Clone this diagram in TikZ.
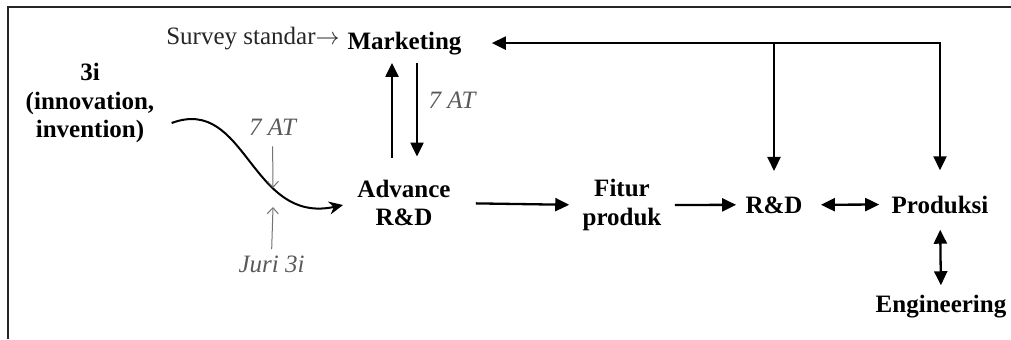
\documentclass[tikz,border=0pt]{standalone}
\usepackage{fontspec}
\setmainfont{Liberation Serif}
\usetikzlibrary{arrows.meta,calc,positioning}

\begin{document}
\begin{tikzpicture}[x=0.5pt,y=-0.5pt,
every node/.style={inner sep=0pt,font=\fontsize{12.5}{14.25}\selectfont},
box/.style={font=\fontsize{12.5}{14.25}\selectfont\bfseries,align=center},
note/.style={font=\fontsize{12.5}{14.25}\selectfont\itshape,text=black!65},
flow/.style={line width=1.15pt,-{Triangle[length=7pt,width=6.5pt]}},
both/.style={line width=1.15pt,{Triangle[length=7pt,width=6.5pt]}-{Triangle[length=7pt,width=6.5pt]}},
hint/.style={black!55,line width=0.5pt,-{Straight Barb[length=3pt,width=5.5pt]}}]
\useasboundingbox (0,0) rectangle (1011,339);
\draw[line width=1pt,black!85] (8,339) -- (8,7) -- (1011,7);
\node[box,anchor=base] (Mk) at (404.5,49) {Marketing};
\node[anchor=base east,text=black!85] (Sv) at (340,44) {Survey standar$\rightarrow$};
\node[box] (In) at (90,103) {3i\\(innovation,\\invention)};
\node[box] (Adv) at (404,203) {Advance\\R\&D};
\node[box] (Ft) at (622,205) {Fitur\\produk};
\node[box,anchor=base] (RD) at (774,213) {R\&D};
\node[box,anchor=base] (Pr) at (940,213) {Produksi};
\node[box,anchor=base] (Eg) at (941,312) {Engineering};
\node[note,anchor=base] (T1) at (452,108) {7 AT};
\node[note,anchor=base] (T2) at (272.5,135) {7 AT};
\node[note,anchor=base] (Ju) at (271.5,272) {Juri 3i};
\coordinate (Dn) at (273,188);
\coordinate (Up) at (273,207);
\draw[flow,shorten <=11pt,shorten >=4pt] ([xshift=-6pt]Adv.north) -- ([xshift=-6pt]Adv.north |- Mk.south);
\draw[flow,shorten <=4pt,shorten >=11.5pt] ([xshift=6.5pt]Adv.north |- Mk.south) -- ([xshift=6.5pt]Adv.north);
\draw[both,shorten <=15pt,shorten >=12.5pt] (Mk.east) -| (Pr.north);
\draw[flow,shorten >=12.5pt] (RD.north |- Mk.east) -- (RD.north);
\draw[flow,shorten <=12.5pt,shorten >=6.5pt] (Adv.east) -- (Ft.west);
\draw[flow,shorten <=6.5pt,shorten >=4.5pt] (Ft.east) -- (RD.west);
\draw[both,shorten <=9pt,shorten >=6pt] (RD.east) -- (Pr.west);
\draw[both,shorten <=8pt,shorten >=4.5pt] (Pr.south) -- (Eg.north);
\draw[line width=1pt,-{Stealth[length=7pt,width=6.5pt]}] ([shift={(17,20)}]In.east) .. controls +(75,-28) and +(-93,20) .. ([shift={(-14,2)}]Adv.west);
\draw[hint,shorten <=5.5pt] (T2.south) -- (Dn);
\draw[hint,shorten <=3pt] (Ju.north) -- (Up);
\end{tikzpicture}
\end{document}
